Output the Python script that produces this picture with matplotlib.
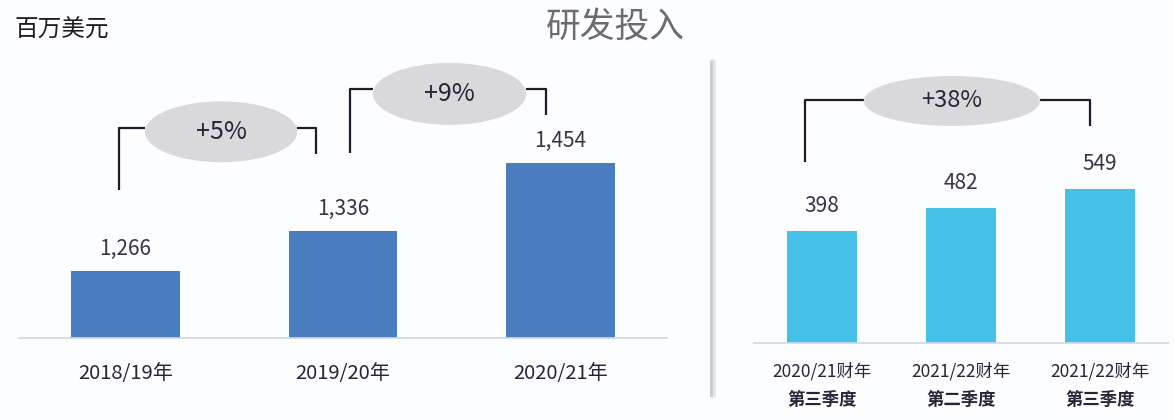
import matplotlib.pyplot as plt
from matplotlib.patches import Ellipse
from matplotlib.lines import Line2D

plt.rcParams['font.family'] = ['Noto Sans CJK SC', 'DejaVu Sans']

# data
annual_labels = ["2018/19年", "2019/20年", "2020/21年"]
annual_values = [1266, 1336, 1454]
quarter_years = ["2020/21财年", "2021/22财年", "2021/22财年"]
quarter_names = ["第三季度", "第二季度", "第三季度"]
quarter_values = [398, 482, 549]
growth_annual = ["+5%", "+9%"]
growth_quarter = "+38%"

W, H = 1174, 420
fig = plt.figure(figsize=(W / 100, H / 100), dpi=100)
fig.patch.set_facecolor("#fcfdff")


def px_axes(x0, y0, x1, y1):
    # pixel box (top-left origin) -> figure axes
    return fig.add_axes([x0 / W, 1 - y1 / H, (x1 - x0) / W, (y1 - y0) / H])


ax1 = px_axes(19, 60, 667, 338)
ax2 = px_axes(754, 60, 1168, 343)

dark = "#2a2438"
line_c = "#1e1a2a"


def style(ax):
    ax.set_facecolor("none")
    for s in ["top", "right", "left"]:
        ax.spines[s].set_visible(False)
    ax.spines["bottom"].set_color("#d3d8e0")
    ax.spines["bottom"].set_linewidth(1.2)
    ax.set_yticks([])
    ax.tick_params(axis="x", length=0, pad=18, colors=dark)
    ax.set_xlim(-0.49, 2.49)


# left panel: annual
x1 = range(len(annual_values))
ax1.bar(x1, annual_values, width=0.5, color="#4a7dbf")
ax1.set_ylim(1150, 1634)
style(ax1)
ax1.set_xticks(list(x1))
ax1.set_xticklabels(annual_labels, fontsize=14.5)
for i, v in enumerate(annual_values):
    ax1.annotate(f"{v:,}", (i, v), xytext=(0, 8), textcoords="offset points",
                 ha="center", va="bottom", fontsize=15, color="#3a3445")

# right panel: quarterly
x2 = range(len(quarter_values))
ax2.bar(x2, quarter_values, width=0.5, color="#45c0e6")
ax2.set_ylim(0, 1009)
style(ax2)
ax2.tick_params(axis="x", pad=14)
ax2.set_xticks(list(x2))
ax2.set_xticklabels(quarter_years, fontsize=12.5)
for i, name in enumerate(quarter_names):
    ax2.annotate(name, (i, 0), xycoords=("data", "axes fraction"), xytext=(0, -41),
                 textcoords="offset points", ha="center", va="center",
                 fontsize=12.5, fontweight="bold", color=dark)
for i, v in enumerate(quarter_values):
    ax2.annotate(f"{v:,}", (i, v), xytext=(0, 10), textcoords="offset points",
                 ha="center", va="bottom", fontsize=15, color="#3a3445")


def bracket(ax, xl, yl, xr, yr, ytop, cx, cy, ew, eh, label, fs):
    ax.plot([xl, xl, cx - ew / 2], [yl, ytop, ytop], color=line_c, lw=1.6,
            solid_capstyle="butt", clip_on=False, zorder=3)
    ax.plot([cx + ew / 2, xr, xr], [ytop, ytop, yr], color=line_c, lw=1.6,
            solid_capstyle="butt", clip_on=False, zorder=3)
    ax.add_patch(Ellipse((cx, cy), ew, eh, facecolor="#d9d9db", edgecolor="none",
                         clip_on=False, zorder=4))
    ax.text(cx, cy, label, ha="center", va="center", fontsize=fs, color=dark, zorder=5)


bracket(ax1, -0.03, 1408, 0.876, 1470, 1516, 0.44, 1509, 0.70, 106, growth_annual[0], 18)
bracket(ax1, 1.03, 1472, 1.935, 1538, 1584, 1.49, 1575, 0.705, 108, growth_annual[1], 18)
bracket(ax2, -0.12, 645, 1.93, 774, 866, 0.935, 863, 1.27, 178, growth_quarter, 17)

# divider between panels
fig.add_artist(Line2D([713 / W, 713 / W], [1 - 62 / H, 1 - 395 / H], color="#e6e7ec", lw=4))
fig.add_artist(Line2D([711 / W, 711 / W], [1 - 62 / H, 1 - 395 / H], color="#c9cad0", lw=2))

fig.text(14 / W, 1 - 30 / H, "百万美元", fontsize=17, color="#1e1a22", va="center", ha="left")
fig.text(615 / W, 1 - 27 / H, "研发投入", fontsize=25, color="#6b6b70", va="center", ha="center")

fig.savefig("out.png", dpi=100, facecolor=fig.get_facecolor())
